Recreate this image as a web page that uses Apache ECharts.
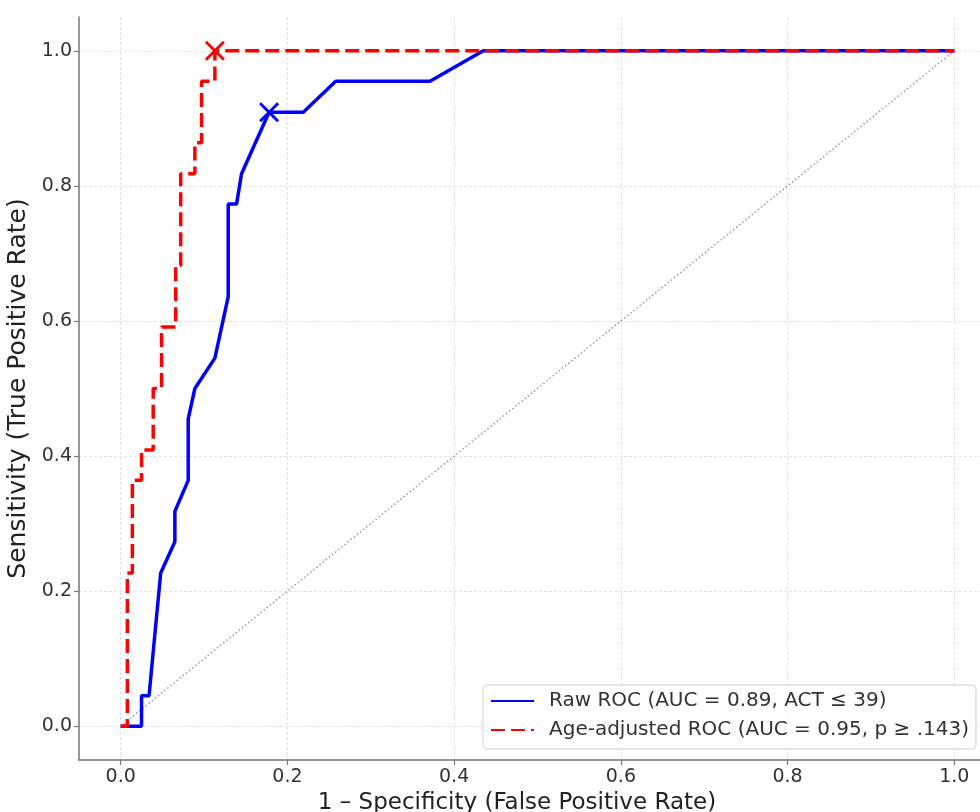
<!DOCTYPE html>
<html>
<head>
<meta charset="utf-8">
<title>ROC curves</title>
<script src="https://cdn.jsdelivr.net/npm/echarts@6/dist/echarts.min.js"></script>
<style>
  html, body { margin: 0; padding: 0; background: #fff; }
  #chart { width: 980px; height: 812px; }
</style>
</head>
<body>
<div id="chart"></div>
<script>
// raw ROC curve (false positive rate / true positive rate)
const rawFpr = [0, 0.025, 0.025, 0.034, 0.048, 0.065, 0.065, 0.081, 0.081, 0.089, 0.113, 0.129, 0.129, 0.139, 0.145, 0.178, 0.219, 0.258, 0.371, 0.435, 1]
const rawTpr = [0, 0, 0.045, 0.045, 0.227, 0.273, 0.318, 0.364, 0.455, 0.5, 0.545, 0.636, 0.773, 0.773, 0.818, 0.909, 0.909, 0.955, 0.955, 1, 1]
// age-adjusted ROC curve
const adjFpr = [0, 0.008, 0.008, 0.014, 0.014, 0.025, 0.025, 0.039, 0.039, 0.049, 0.049, 0.066, 0.066, 0.072, 0.072, 0.089, 0.089, 0.097, 0.097, 0.113, 0.113, 1]
const adjTpr = [0, 0, 0.227, 0.227, 0.364, 0.364, 0.409, 0.409, 0.5, 0.5, 0.591, 0.591, 0.682, 0.682, 0.818, 0.818, 0.864, 0.864, 0.955, 0.955, 1, 1]
// optimal cut-off points (marked with x)
const rawCut = [0.178, 0.909]
const adjCut = [0.113, 1.0]
// chance line
const chance = [[0, 0], [1, 1]]
const tickValues = [0, 0.2, 0.4, 0.6, 0.8, 1.0]
const rawName = 'Raw ROC (AUC = 0.89, ACT ≤ 39)'
const adjName = 'Age-adjusted ROC (AUC = 0.95, p ≥ .143)'

const font = 'DejaVu Sans'
const crossPath = 'path://M0,2 L2,0 L10,8 L18,0 L20,2 L12,10 L20,18 L18,20 L10,12 L2,20 L0,18 L8,10 Z'

function pairs(xs, ys) {
  return xs.map((x, i) => [x, ys[i]])
}

function axisBase() {
  return {
    type: 'value',
    min: -0.05,
    max: 1.05,
    axisLine: { show: true, onZero: false, lineStyle: { color: '#777', width: 1.5 } },
    axisTick: { show: true, length: 5, customValues: tickValues, lineStyle: { color: '#777', width: 1.2 } },
    axisLabel: {
      customValues: tickValues,
      formatter: v => v.toFixed(1),
      fontFamily: font,
      fontSize: 19,
      color: '#333'
    },
    splitLine: { show: true, lineStyle: { color: '#e2e2e2', width: 1, type: [3, 2] } },
    nameLocation: 'middle',
    nameTextStyle: { fontFamily: font, fontSize: 23, color: '#222' }
  }
}

let myChart = echarts.init(document.getElementById('chart'))

let xAxis = axisBase()
xAxis.name = '1 – Specificity (False Positive Rate)'
xAxis.nameGap = 27
xAxis.nameTextStyle.padding = [0, 41, 0, 0]
xAxis.axisLabel.margin = 8

let yAxis = axisBase()
yAxis.name = 'Sensitivity (True Positive Rate)'
yAxis.nameGap = 41
yAxis.nameTextStyle.fontSize = 25
yAxis.axisLabel.margin = 7

myChart.setOption({
  animation: false,
  backgroundColor: '#fff',
  // 绘图区向右超出画布，与原图裁切一致
  grid: { left: 79, top: 17, width: 917, height: 743, containLabel: false, outerBoundsMode: 'none' },
  xAxis: xAxis,
  yAxis: yAxis,
  legend: {
    data: [rawName, adjName],
    orient: 'vertical',
    left: 483,
    top: 685,
    padding: [6, 7, 9, 7],
    itemGap: 9,
    itemWidth: 43,
    itemHeight: 14,
    backgroundColor: 'rgba(255,255,255,0.85)',
    borderColor: '#cfcfcf',
    borderWidth: 1,
    borderRadius: 4,
    itemStyle: { opacity: 0 },
    textStyle: { fontFamily: font, fontSize: 20, color: '#333', padding: [0, 0, 0, 10] }
  },
  series: [
    {
      type: 'line',
      name: 'chance',
      data: chance,
      symbol: 'none',
      silent: true,
      z: 1,
      lineStyle: { color: '#999', width: 1.5, type: [1.5, 2.5] }
    },
    {
      type: 'line',
      name: rawName,
      data: pairs(rawFpr, rawTpr),
      symbol: 'none',
      z: 2,
      lineStyle: { color: '#0000ff', width: 3.5 },
      itemStyle: { color: '#0000ff' }
    },
    {
      type: 'line',
      name: adjName,
      data: pairs(adjFpr, adjTpr),
      symbol: 'none',
      z: 3,
      lineStyle: { color: '#ff0000', width: 3.5, type: [14, 6] },
      itemStyle: { color: '#ff0000' }
    },
    {
      type: 'scatter',
      name: 'raw cut',
      data: [rawCut],
      symbol: crossPath,
      symbolSize: 20,
      z: 4,
      itemStyle: { color: '#0000ff', opacity: 1 }
    },
    {
      type: 'scatter',
      name: 'adj cut',
      data: [adjCut],
      symbol: crossPath,
      symbolSize: 20,
      z: 4,
      itemStyle: { color: '#ff0000', opacity: 1 }
    }
  ]
})
</script>
</body>
</html>
